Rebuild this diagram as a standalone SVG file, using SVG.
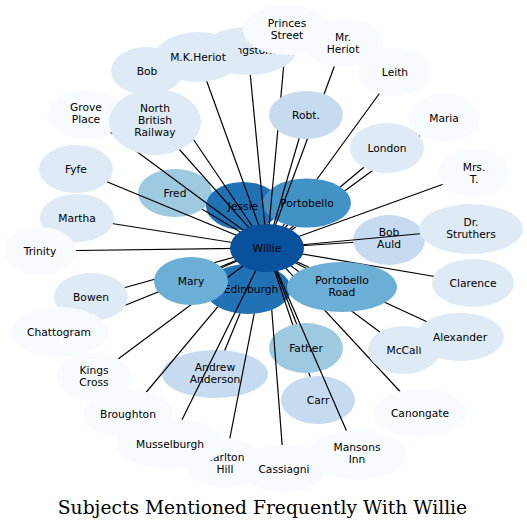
<svg xmlns="http://www.w3.org/2000/svg" width="527" height="529" viewBox="0 0 527 529">
<style>
.n text{font-family:"DejaVu Sans",sans-serif;font-size:10.7px;fill:#000;text-anchor:middle}
.c0{fill:#f7fbff}.c1{fill:#deebf7}.c2{fill:#c6dbef}.c3{fill:#9ecae1}.c4{fill:#6baed6}.c5{fill:#4292c6}.c6{fill:#2171b5}.c7{fill:#08519c}
#edges line{stroke:#000;stroke-width:1.2}
.title{font-family:"DejaVu Serif",serif;font-size:18.7px;fill:#000;text-anchor:middle}
</style>
<defs>
<mask id="mPorto" maskUnits="userSpaceOnUse" x="0" y="0" width="527" height="529"><rect width="527" height="529" fill="#fff"/><ellipse cx="307" cy="203" rx="44" ry="24.5" fill="#000"/></mask>
<mask id="mEdin" maskUnits="userSpaceOnUse" x="0" y="0" width="527" height="529"><rect width="527" height="529" fill="#fff"/><ellipse cx="248" cy="289" rx="43" ry="25" fill="#000"/></mask>
<mask id="mJessie" maskUnits="userSpaceOnUse" x="0" y="0" width="527" height="529"><rect width="527" height="529" fill="#fff"/><ellipse cx="243" cy="206" rx="37" ry="24" fill="#000"/><ellipse cx="307" cy="203" rx="44" ry="24.5" fill="#000"/></mask>
<mask id="mFred" maskUnits="userSpaceOnUse" x="0" y="0" width="527" height="529"><rect width="527" height="529" fill="#fff"/><ellipse cx="175" cy="193" rx="37" ry="24" fill="#000"/></mask>
<mask id="mBobAuld" maskUnits="userSpaceOnUse" x="0" y="0" width="527" height="529"><rect width="527" height="529" fill="#fff"/><ellipse cx="389" cy="240" rx="36" ry="25" fill="#000"/></mask>
<mask id="mFather" maskUnits="userSpaceOnUse" x="0" y="0" width="527" height="529"><rect width="527" height="529" fill="#fff"/><ellipse cx="306" cy="348" rx="37" ry="25" fill="#000"/></mask>
<mask id="mCarr" maskUnits="userSpaceOnUse" x="0" y="0" width="527" height="529"><rect width="527" height="529" fill="#fff"/><ellipse cx="318" cy="400" rx="37" ry="24" fill="#000"/><ellipse cx="306" cy="348" rx="37" ry="25" fill="#000"/></mask>
<mask id="mAndrew" maskUnits="userSpaceOnUse" x="0" y="0" width="527" height="529"><rect width="527" height="529" fill="#fff"/><ellipse cx="215" cy="374" rx="53" ry="24" fill="#000"/><ellipse cx="248" cy="289" rx="43" ry="25" fill="#000"/></mask>
</defs>
<rect width="527" height="529" fill="#fff"/>

<!-- nodes beneath the connectors -->
<g id="n-fred" class="n"><ellipse class="c3" cx="175" cy="193" rx="37" ry="24"/><text x="175" y="196.7">Fred</text></g>
<g id="n-jessie" class="n"><ellipse class="c6" cx="243" cy="206" rx="37" ry="24"/><text x="243" y="209.7">Jessie</text></g>
<g id="n-portobello" class="n"><ellipse class="c5" cx="307" cy="203" rx="44" ry="24.5"/><text x="307" y="206.7">Portobello</text></g>
<g id="n-edinburgh" class="n"><ellipse class="c6" cx="248" cy="289" rx="43" ry="25"/><text x="251" y="292.7">Edinburgh</text></g>
<g id="n-bobauld" class="n"><ellipse class="c2" cx="389" cy="240" rx="36" ry="25"/><text x="389" y="236">Bob</text><text x="389" y="247.7">Auld</text></g>
<g id="n-father" class="n"><ellipse class="c3" cx="306" cy="348" rx="37" ry="25"/><text x="306" y="351.7">Father</text></g>
<g id="n-carr" class="n"><ellipse class="c2" cx="318" cy="400" rx="37" ry="24"/><text x="318" y="403.7">Carr</text></g>
<g id="n-andrew" class="n"><ellipse class="c2" cx="215" cy="374" rx="53" ry="24"/><text x="215" y="371">Andrew</text><text x="215" y="383">Anderson</text></g>

<g id="edges">
<line x1="287" y1="30" x2="267" y2="248"/>
<line x1="343" y1="43" x2="267" y2="248"/>
<line x1="395" y1="72" x2="267" y2="248" mask="url(#mPorto)"/>
<line x1="444" y1="118" x2="267" y2="248" mask="url(#mPorto)"/>
<line x1="387" y1="148" x2="267" y2="248" mask="url(#mPorto)"/>
<line x1="307" y1="203" x2="267" y2="248" mask="url(#mPorto)"/>
<line x1="474" y1="173" x2="267" y2="248"/>
<line x1="471" y1="229" x2="267" y2="248"/>
<line x1="389" y1="240" x2="267" y2="248" mask="url(#mBobAuld)"/>
<line x1="473" y1="283" x2="267" y2="248"/>
<line x1="460" y1="337" x2="267" y2="248"/>
<line x1="404" y1="350" x2="267" y2="248"/>
<line x1="420" y1="413" x2="267" y2="248"/>
<line x1="342" y1="287" x2="267" y2="248"/>
<line x1="318" y1="400" x2="267" y2="248" mask="url(#mCarr)"/>
<line x1="306" y1="348" x2="267" y2="248" mask="url(#mFather)"/>
<line x1="357" y1="455" x2="267" y2="248"/>
<line x1="284" y1="469" x2="267" y2="248" mask="url(#mEdin)"/>
<line x1="225" y1="463" x2="267" y2="248" mask="url(#mEdin)"/>
<line x1="215" y1="374" x2="267" y2="248" mask="url(#mAndrew)"/>
<line x1="248" y1="289" x2="267" y2="248" mask="url(#mEdin)"/>
<line x1="170" y1="444" x2="267" y2="248"/>
<line x1="128" y1="414" x2="267" y2="248" mask="url(#mEdin)"/>
<line x1="94" y1="377" x2="267" y2="248"/>
<line x1="59" y1="332" x2="267" y2="248"/>
<line x1="91" y1="297" x2="267" y2="248"/>
<line x1="191" y1="281" x2="267" y2="248"/>
<line x1="40" y1="251" x2="267" y2="248"/>
<line x1="77" y1="218" x2="267" y2="248"/>
<line x1="76" y1="169" x2="267" y2="248"/>
<line x1="175" y1="193" x2="267" y2="248" mask="url(#mFred)"/>
<line x1="86" y1="114" x2="267" y2="248"/>
<line x1="155" y1="122" x2="267" y2="248"/>
<line x1="147" y1="71" x2="267" y2="248"/>
<line x1="198" y1="57" x2="267" y2="248"/>
<line x1="248" y1="51" x2="267" y2="248"/>
<line x1="306" y1="115" x2="267" y2="248"/>
<line x1="243" y1="206" x2="267" y2="248" mask="url(#mJessie)"/>
</g>

<!-- nodes above the connectors -->
<g id="n-bob" class="n"><ellipse class="c1" cx="147" cy="71" rx="36" ry="24"/><text x="147" y="74.7">Bob</text></g>
<g id="n-livingstone" class="n"><ellipse class="c1" cx="248" cy="51" rx="48" ry="24"/><text x="248" y="54">Livingstone</text></g>
<g id="n-mkheriot" class="n"><ellipse class="c1" cx="198" cy="57" rx="43" ry="25"/><text x="198" y="60.7">M.K.Heriot</text></g>
<g id="n-princes" class="n"><ellipse class="c0" cx="287" cy="30" rx="44" ry="25"/><text x="287" y="27">Princes</text><text x="287" y="38.5">Street</text></g>
<g id="n-mrheriot" class="n"><ellipse class="c0" cx="343" cy="43" rx="40" ry="24"/><text x="343" y="41">Mr.</text><text x="343" y="52.5">Heriot</text></g>
<g id="n-leith" class="n"><ellipse class="c0" cx="395" cy="72" rx="37" ry="24"/><text x="395" y="75.7">Leith</text></g>
<g id="n-maria" class="n"><ellipse class="c0" cx="444" cy="118" rx="36" ry="24"/><text x="444" y="121.7">Maria</text></g>
<g id="n-robt" class="n"><ellipse class="c2" cx="306" cy="115" rx="37" ry="24"/><text x="306" y="118.7">Robt.</text></g>
<g id="n-london" class="n"><ellipse class="c1" cx="387" cy="148" rx="37" ry="25"/><text x="387" y="151.7">London</text></g>
<g id="n-mrst" class="n"><ellipse class="c0" cx="474" cy="173" rx="36" ry="24"/><text x="474" y="171">Mrs.</text><text x="474" y="182.5">T.</text></g>
<g id="n-struthers" class="n"><ellipse class="c1" cx="471" cy="229" rx="52" ry="25"/><text x="471" y="226">Dr.</text><text x="471" y="237.5">Struthers</text></g>
<g id="n-clarence" class="n"><ellipse class="c1" cx="473" cy="283" rx="41" ry="24"/><text x="473" y="286.7">Clarence</text></g>
<g id="n-mccall" class="n"><ellipse class="c1" cx="404" cy="350" rx="36" ry="24"/><text x="404" y="353.7">McCall</text></g>
<g id="n-alexander" class="n"><ellipse class="c1" cx="460" cy="337" rx="44" ry="24"/><text x="460" y="340.7">Alexander</text></g>
<g id="n-canongate" class="n"><ellipse class="c0" cx="420" cy="413" rx="47" ry="24"/><text x="420" y="416.7">Canongate</text></g>
<g id="n-carlton" class="n"><ellipse class="c0" cx="225" cy="463" rx="40" ry="25"/><text x="225" y="461">Carlton</text><text x="225" y="472.5">Hill</text></g>
<g id="n-cassiagni" class="n"><ellipse class="c0" cx="284" cy="469" rx="41" ry="24"/><text x="284" y="472.7">Cassiagni</text></g>
<g id="n-mansons" class="n"><ellipse class="c0" cx="357" cy="455" rx="50" ry="25"/><text x="357" y="451">Mansons</text><text x="357" y="462.5">Inn</text></g>
<g id="n-broughton" class="n"><ellipse class="c0" cx="128" cy="414" rx="45" ry="24"/><text x="128" y="417.7">Broughton</text></g>
<g id="n-musselburgh" class="n"><ellipse class="c0" cx="170" cy="444" rx="54" ry="25"/><text x="170" y="447.7">Musselburgh</text></g>
<g id="n-kingscross" class="n"><ellipse class="c0" cx="94" cy="377" rx="38" ry="24"/><text x="94" y="374">Kings</text><text x="94" y="385.5">Cross</text></g>
<g id="n-bowen" class="n"><ellipse class="c1" cx="91" cy="297" rx="37" ry="24"/><text x="91" y="300.7">Bowen</text></g>
<g id="n-chattogram" class="n"><ellipse class="c0" cx="59" cy="332" rx="49" ry="25"/><text x="59" y="335.7">Chattogram</text></g>
<g id="n-martha" class="n"><ellipse class="c1" cx="77" cy="218" rx="37" ry="24"/><text x="77" y="221.7">Martha</text></g>
<g id="n-trinity" class="n"><ellipse class="c0" cx="40" cy="251" rx="36" ry="24"/><text x="40" y="254.7">Trinity</text></g>
<g id="n-fyfe" class="n"><ellipse class="c1" cx="76" cy="169" rx="37" ry="24"/><text x="76" y="172.7">Fyfe</text></g>
<g id="n-grove" class="n"><ellipse class="c0" cx="86" cy="114" rx="39" ry="24"/><text x="86" y="111">Grove</text><text x="86" y="122.5">Place</text></g>
<g id="n-nbr" class="n"><ellipse class="c1" cx="155" cy="122" rx="46" ry="33"/><text x="155" y="111.5">North</text><text x="155" y="123.5">British</text><text x="155" y="135.5">Railway</text></g>
<g id="n-mary" class="n"><ellipse class="c4" cx="191" cy="281" rx="37" ry="24"/><text x="191" y="284.7">Mary</text></g>
<g id="n-portobelloroad" class="n"><ellipse class="c4" cx="342" cy="287" rx="55" ry="25"/><text x="342" y="284">Portobello</text><text x="342" y="295.5">Road</text></g>
<g id="n-willie" class="n"><ellipse class="c7" cx="267" cy="248" rx="37" ry="24"/><text x="267" y="251.7">Willie</text></g>

<text class="title" x="262.5" y="514">Subjects Mentioned Frequently With Willie</text>
</svg>
